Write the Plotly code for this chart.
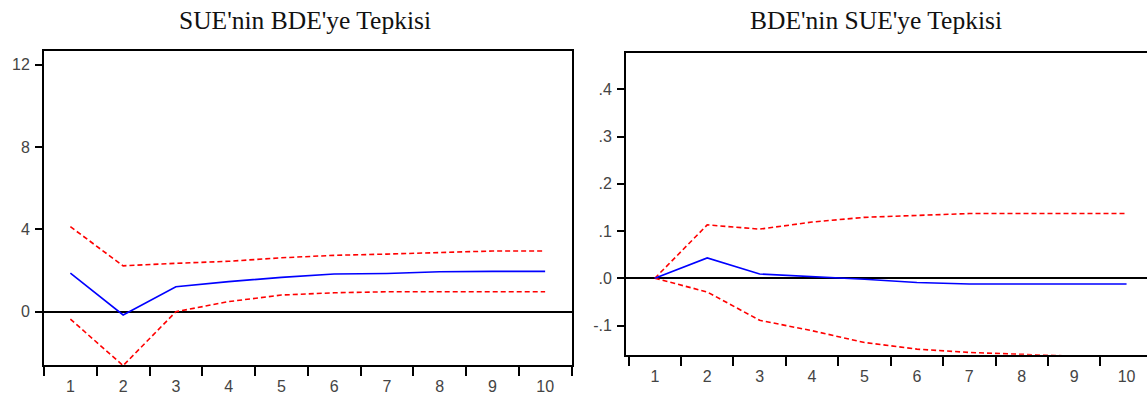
import plotly.graph_objects as go

periods = [1, 2, 3, 4, 5, 6, 7, 8, 9, 10]

# Left panel: SUE'nin BDE'ye Tepkisi
sue_resp = [1.87, -0.16, 1.21, 1.46, 1.67, 1.83, 1.86, 1.94, 1.96, 1.96]
sue_upper = [4.13, 2.23, 2.35, 2.45, 2.62, 2.74, 2.80, 2.88, 2.95, 2.95]
sue_lower = [-0.36, -2.62, 0.0, 0.49, 0.81, 0.92, 0.97, 0.97, 0.97, 0.97]

# Right panel: BDE'nin SUE'ye Tepkisi
bde_resp = [0.0, 0.043, 0.009, 0.004, -0.002, -0.009, -0.012, -0.012, -0.012, -0.012]
bde_upper = [0.0, 0.113, 0.104, 0.119, 0.129, 0.133, 0.137, 0.137, 0.137, 0.137]
bde_lower = [0.0, -0.029, -0.089, -0.111, -0.136, -0.150, -0.157, -0.161, -0.165, -0.167]

left_yticks = [0, 4, 8, 12]
left_yticktext = ["0", "4", "8", "12"]
right_yticks = [-0.1, 0.0, 0.1, 0.2, 0.3, 0.4]
right_yticktext = ["-.1", ".0", ".1", ".2", ".3", ".4"]

titles = ["SUE'nin BDE'ye Tepkisi", "BDE'nin SUE'ye Tepkisi"]

W, H = 1147, 400
BLUE = "#0000FF"
RED = "#FF0000"
DASH = "5px,3px"

fig = go.Figure()

def add_panel(resp, up, lo, xa, ya):
    fig.add_trace(go.Scatter(x=periods, y=up, mode="lines", xaxis=xa, yaxis=ya,
                             line=dict(color=RED, width=1.6, dash=DASH), showlegend=False))
    fig.add_trace(go.Scatter(x=periods, y=lo, mode="lines", xaxis=xa, yaxis=ya,
                             line=dict(color=RED, width=1.6, dash=DASH), showlegend=False))
    fig.add_trace(go.Scatter(x=periods, y=resp, mode="lines", xaxis=xa, yaxis=ya,
                             line=dict(color=BLUE, width=1.6), showlegend=False))

add_panel(sue_resp, sue_upper, sue_lower, "x", "y")
add_panel(bde_resp, bde_upper, bde_lower, "x2", "y2")

tickfont = dict(family="Liberation Sans, Arial, sans-serif", size=16, color="#444444")

def xaxis(domain, rng, anchor):
    return dict(domain=domain, range=rng, anchor=anchor, tickmode="array",
                tickvals=periods, ticktext=[str(p) for p in periods],
                ticks="", showgrid=False, zeroline=False, automargin=False,
                showline=True, linecolor="black", linewidth=2, mirror=True,
                tickfont=tickfont, ticklabelstandoff=6,
                minor=dict(ticks="outside", tick0=0.5, dtick=1, ticklen=9,
                           tickwidth=2, tickcolor="black", showgrid=False))

def yaxis(domain, rng, anchor, tv, tt, mirror):
    return dict(domain=domain, range=rng, anchor=anchor, tickmode="array",
                tickvals=tv, ticktext=tt, ticks="outside", ticklen=7,
                tickwidth=2, tickcolor="black", showgrid=False, automargin=False,
                zeroline=True, zerolinecolor="black", zerolinewidth=1.8,
                showline=True, linecolor="black", linewidth=2, mirror=mirror,
                tickfont=tickfont, ticklabelstandoff=2)

fig.update_layout(
    width=W, height=H,
    margin=dict(l=0, r=0, t=0, b=0, autoexpand=False),
    paper_bgcolor="white", plot_bgcolor="white",
    xaxis=xaxis([44 / W, 571.5 / W], [0.5, 10.5], "y"),
    yaxis=yaxis([(H - 365) / H, (H - 51) / H], [-2.59, 12.67], "x",
                left_yticks, left_yticktext, True),
    xaxis2=xaxis([626 / W, 1.0], [0.45, 10.39], "y2"),
    yaxis2=yaxis([(H - 354.8) / H, (H - 52.7) / H], [-0.162, 0.4775], "x2",
                 right_yticks, right_yticktext, False),
)

for txt, cx in zip(titles, [305, 876]):
    fig.add_annotation(text=txt, x=cx / W, y=1 - 20 / H, xref="paper", yref="paper",
                       showarrow=False, xanchor="center", yanchor="middle",
                       font=dict(family="Liberation Serif, Times New Roman, serif",
                                 size=25.5, color="#111"))

fig.write_html("out.html", config={"displayModeBar": False},
               post_script="document.body.style.margin='0';document.body.style.overflow='hidden';")
